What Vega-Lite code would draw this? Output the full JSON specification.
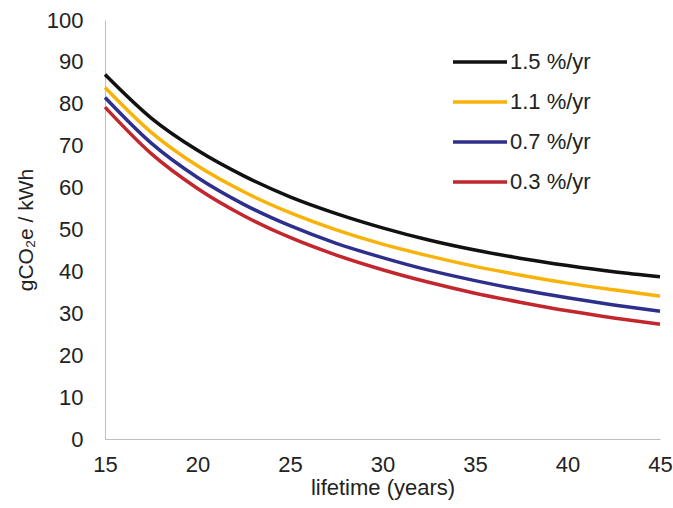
{
  "$schema": "https://vega.github.io/schema/vega-lite/v6.json",
  "width": 555,
  "height": 419,
  "autosize": "none",
  "padding": {"left": 105, "top": 20, "right": 13, "bottom": 69},
  "background": "white",
  "config": {
    "view": {"stroke": null},
    "font": "Liberation Sans"
  },
  "data": {
    "values": [
      {"x": 15, "s": "1.5 %/yr", "y": 87.0}, {"x": 17.5, "s": "1.5 %/yr", "y": 76.6}, {"x": 20, "s": "1.5 %/yr", "y": 68.9}, {"x": 22.5, "s": "1.5 %/yr", "y": 62.8}, {"x": 25, "s": "1.5 %/yr", "y": 57.8}, {"x": 27.5, "s": "1.5 %/yr", "y": 53.8}, {"x": 30, "s": "1.5 %/yr", "y": 50.4}, {"x": 32.5, "s": "1.5 %/yr", "y": 47.5}, {"x": 35, "s": "1.5 %/yr", "y": 45.1}, {"x": 37.5, "s": "1.5 %/yr", "y": 43.1}, {"x": 40, "s": "1.5 %/yr", "y": 41.4}, {"x": 42.5, "s": "1.5 %/yr", "y": 39.9}, {"x": 45, "s": "1.5 %/yr", "y": 38.7},
      {"x": 15, "s": "1.1 %/yr", "y": 83.9}, {"x": 17.5, "s": "1.1 %/yr", "y": 73.2}, {"x": 20, "s": "1.1 %/yr", "y": 65.2}, {"x": 22.5, "s": "1.1 %/yr", "y": 59.0}, {"x": 25, "s": "1.1 %/yr", "y": 54.0}, {"x": 27.5, "s": "1.1 %/yr", "y": 49.9}, {"x": 30, "s": "1.1 %/yr", "y": 46.5}, {"x": 32.5, "s": "1.1 %/yr", "y": 43.7}, {"x": 35, "s": "1.1 %/yr", "y": 41.2}, {"x": 37.5, "s": "1.1 %/yr", "y": 39.1}, {"x": 40, "s": "1.1 %/yr", "y": 37.2}, {"x": 42.5, "s": "1.1 %/yr", "y": 35.6}, {"x": 45, "s": "1.1 %/yr", "y": 34.1},
      {"x": 15, "s": "0.7 %/yr", "y": 81.5}, {"x": 17.5, "s": "0.7 %/yr", "y": 70.6}, {"x": 20, "s": "0.7 %/yr", "y": 62.4}, {"x": 22.5, "s": "0.7 %/yr", "y": 56.0}, {"x": 25, "s": "0.7 %/yr", "y": 50.9}, {"x": 27.5, "s": "0.7 %/yr", "y": 46.7}, {"x": 30, "s": "0.7 %/yr", "y": 43.3}, {"x": 32.5, "s": "0.7 %/yr", "y": 40.3}, {"x": 35, "s": "0.7 %/yr", "y": 37.8}, {"x": 37.5, "s": "0.7 %/yr", "y": 35.6}, {"x": 40, "s": "0.7 %/yr", "y": 33.7}, {"x": 42.5, "s": "0.7 %/yr", "y": 32.0}, {"x": 45, "s": "0.7 %/yr", "y": 30.5},
      {"x": 15, "s": "0.3 %/yr", "y": 79.2}, {"x": 17.5, "s": "0.3 %/yr", "y": 68.1}, {"x": 20, "s": "0.3 %/yr", "y": 59.8}, {"x": 22.5, "s": "0.3 %/yr", "y": 53.3}, {"x": 25, "s": "0.3 %/yr", "y": 48.1}, {"x": 27.5, "s": "0.3 %/yr", "y": 43.9}, {"x": 30, "s": "0.3 %/yr", "y": 40.4}, {"x": 32.5, "s": "0.3 %/yr", "y": 37.4}, {"x": 35, "s": "0.3 %/yr", "y": 34.8}, {"x": 37.5, "s": "0.3 %/yr", "y": 32.6}, {"x": 40, "s": "0.3 %/yr", "y": 30.6}, {"x": 42.5, "s": "0.3 %/yr", "y": 28.9}, {"x": 45, "s": "0.3 %/yr", "y": 27.4}
    ]
  },
  "mark": {"type": "line", "interpolate": "monotone", "strokeWidth": 3.5},
  "encoding": {
    "x": {
      "field": "x", "type": "quantitative",
      "scale": {"domain": [15, 45], "nice": false, "zero": false},
      "axis": {
        "values": [15, 20, 25, 30, 35, 40, 45],
        "title": "lifetime (years)",
        "grid": false, "ticks": false,
        "labelFlush": false,
        "domainColor": "#bdbdbd", "domainWidth": 1,
        "labelFontSize": 22, "labelColor": "#222", "labelPadding": 15,
        "labelFont": "Liberation Sans",
        "titleFontSize": 22, "titleFontWeight": "normal", "titleColor": "#222",
        "titleFont": "Liberation Sans", "titlePadding": 2
      }
    },
    "y": {
      "field": "y", "type": "quantitative",
      "scale": {"domain": [0, 100], "nice": false},
      "axis": {
        "values": [0, 10, 20, 30, 40, 50, 60, 70, 80, 90, 100],
        "title": "gCO₂e / kWh",
        "grid": false, "ticks": false,
        "labelFlush": false,
        "domainColor": "#bdbdbd", "domainWidth": 1,
        "labelFontSize": 22, "labelColor": "#222", "labelPadding": 22,
        "labelFont": "Liberation Sans",
        "titleFontSize": 21, "titleFontWeight": "normal", "titleColor": "#222",
        "titleFont": "Liberation Sans", "titlePadding": 10
      }
    },
    "color": {
      "field": "s", "type": "nominal",
      "scale": {
        "domain": ["1.5 %/yr", "1.1 %/yr", "0.7 %/yr", "0.3 %/yr"],
        "range": ["#111111", "#F9B208", "#2E2F8C", "#C1272D"]
      },
      "legend": {
        "title": null,
        "orient": "none",
        "legendX": 346,
        "legendY": 13,
        "symbolType": "stroke",
        "symbolSize": 2916,
        "symbolStrokeWidth": 3.5,
        "labelFontSize": 22,
        "labelColor": "#222",
        "labelFont": "Liberation Sans",
        "labelOffset": 1,
        "rowPadding": 0
      }
    }
  }
}
